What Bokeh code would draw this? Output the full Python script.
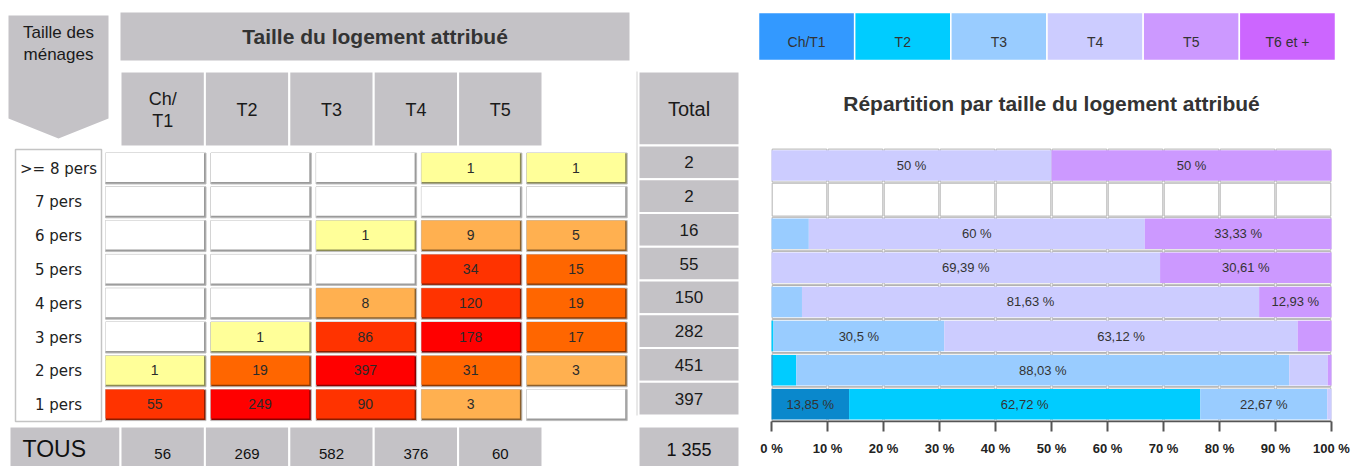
from bokeh.plotting import figure
from bokeh.models import Range1d, ColumnDataSource, LinearAxis, FixedTicker
from bokeh.layouts import row
from bokeh.embed import file_html
from bokeh.resources import INLINE
from bokeh.core.properties import value

# ---------------- data ----------------
household_sizes = [">= 8 pers", "7 pers", "6 pers", "5 pers", "4 pers", "3 pers", "2 pers", "1 pers"]
header_labels = ["Ch/\nT1", "T2", "T3", "T4", "T5"]
legend_labels = ["Ch/T1", "T2", "T3", "T4", "T5", "T6 et +"]
ch_t1 = [0, 0, 0, 0, 0, 0, 1, 55]
t2 = [0, 0, 0, 0, 0, 1, 19, 249]
t3 = [0, 0, 1, 0, 8, 86, 397, 90]
t4 = [1, 0, 9, 34, 120, 178, 31, 3]
t5 = [1, 0, 5, 15, 19, 17, 3, 0]
t6_plus = [0, 0, 0, 0, 0, 0, 0, 0]
row_totals = [2, 2, 16, 55, 150, 282, 451, 397]
column_totals = [56, 269, 582, 376, 60]
grand_total = "1 355"
axis_ticks = [0, 10, 20, 30, 40, 50, 60, 70, 80, 90, 100]

# ---------------- styles ----------------
GRAY = "#C4C2C6"
SANS = value("Liberation Sans")
NARROW = value("Liberation Sans Narrow, Liberation Sans")
DEJA = value("DejaVu Sans")
bar_colors = ["#0A88CC", "#00CCFF", "#99CCFF", "#CCCCFF", "#CC99FF", "#CC66FF"]
legend_colors = ["#3399FF", "#00CCFF", "#99CCFF", "#CCCCFF", "#CC99FF", "#CC66FF"]


def heat_color(v):
    if v <= 0:
        return "#FFFFFF"
    if v == 1:
        return "#FFFF99"
    if v < 10:
        return "#FFB050"
    if v < 34:
        return "#FF6600"
    if v < 150:
        return "#FF3300"
    return "#FF0000"


def shade(hex_color, f=0.55):
    h = hex_color.lstrip("#")
    r, g, b = (int(h[i:i + 2], 16) for i in (0, 2, 4))
    return "#%02x%02x%02x" % (int(r * f), int(g * f), int(b * f))


def fmt_pct(p):
    s = f"{round(p, 2):.2f}".rstrip("0").rstrip(".")
    return s.replace(".", ",") + " %"


series = [ch_t1, t2, t3, t4, t5]
n_rows = len(household_sizes)

W1, W2, H = 750, 603, 466

# ================= left: table =================
p1 = figure(width=W1, height=H, x_range=Range1d(0, W1), y_range=Range1d(H, 0),
            output_backend="svg", toolbar_location=None, x_axis_type=None, y_axis_type=None,
            min_border=0, outline_line_color=None, background_fill_color="white",
            border_fill_color="white")
p1.frame_align = False

# "Taille des ménages" arrow
p1.patch([8, 108, 108, 58, 8], [15, 15, 118, 138, 118], fill_color=GRAY, line_color=None)
p1.text(x=[58, 58], y=[32, 54], text=["Taille des", "ménages"], text_font=SANS,
        text_font_size="17px", text_align="center", text_baseline="middle", text_color="#1a1a1a")

# main header
p1.quad(left=[120], right=[629], top=[12], bottom=[60], fill_color=GRAY, line_color=None)
p1.text(x=[374.5], y=[36], text=["Taille du logement attribué"], text_font=SANS,
        text_font_style="bold", text_font_size="21px", text_align="center",
        text_baseline="middle", text_color="#333333")

# column headers
HX0, HW = 120, 84.4
hl = [HX0 + i * HW for i in range(len(header_labels))]
p1.quad(left=hl, right=[x + HW for x in hl], top=[71] * len(hl), bottom=[146] * len(hl),
        fill_color=GRAY, line_color="white", line_width=2)
p1.text(x=[x + HW / 2 for x in hl], y=[109] * len(hl), text=header_labels, text_font=SANS,
        text_font_size="18px", text_align="center", text_baseline="middle",
        text_color="#1a1a1a", text_line_height=1.1)

# total column
TX0, TX1 = 638, 739
TY0, TH = 145, 33.75
p1.quad(left=[TX0], right=[TX1], top=[71], bottom=[TY0], fill_color=GRAY,
        line_color="white", line_width=2)
p1.text(x=[(TX0 + TX1) / 2], y=[108], text=["Total"], text_font=SANS, text_font_size="20px",
        text_align="center", text_baseline="middle", text_color="#1a1a1a")
tt = [TY0 + r * TH for r in range(n_rows)]
p1.quad(left=[TX0] * n_rows, right=[TX1] * n_rows, top=tt, bottom=[t + TH for t in tt],
        fill_color=GRAY, line_color="white", line_width=2)
p1.text(x=[(TX0 + TX1) / 2] * n_rows, y=[t + TH / 2 for t in tt],
        text=[str(v) for v in row_totals], text_font=SANS, text_font_size="17px",
        text_align="center", text_baseline="middle", text_color="#1a1a1a")
p1.segment(x0=[636.5], y0=[71], x1=[636.5], y1=[TY0 + n_rows * TH], line_color="#d2d2d2",
           line_width=1)

# row label box
CY0, CDY, CH = 152.5, 33.8, 31
p1.quad(left=[15], right=[101], top=[149], bottom=[421], fill_color="white",
        line_color="#c4c4c4", line_width=1.5)
p1.text(x=[58] * n_rows, y=[CY0 + r * CDY + CH / 2 for r in range(n_rows)],
        text=household_sizes, text_font=DEJA, text_font_size="15px", text_align="center",
        text_baseline="middle", text_color="#222222")

# heat cells
CX0, CDX, CW = 105, 105.3, 100.5
L, R, T, B, C, S, TX, TY, TV = [], [], [], [], [], [], [], [], []
for r in range(n_rows):
    for c, col in enumerate(series):
        v = col[r]
        left = CX0 + c * CDX
        top = CY0 + r * CDY
        L.append(left); R.append(left + CW); T.append(top); B.append(top + CH)
        fc = heat_color(v)
        C.append(fc)
        S.append("#9a9a9a" if v <= 0 else shade(fc))
        if v > 0:
            TX.append(left + CW / 2 - 1); TY.append(top + CH / 2 - 1); TV.append(str(v))
p1.quad(left=L, right=R, top=T, bottom=B, fill_color=S, line_color="#bdbdbd", line_width=1)
p1.quad(left=L, right=[x - 2 for x in R], top=T, bottom=[y - 2 for y in B], fill_color=C,
        line_color=None)
p1.text(x=TX, y=TY, text=TV, text_font=NARROW, text_font_size="14px", text_align="center",
        text_baseline="middle", text_color="#2b2b2b")

# TOUS row
BY0, BY1 = 426, 472
p1.quad(left=[9] + hl + [TX0], right=[120] + [x + HW for x in hl] + [TX1],
        top=[BY0] * 7, bottom=[BY1] * 7, fill_color=GRAY, line_color="white", line_width=2)
p1.text(x=[22], y=[448], text=["TOUS"], text_font=SANS, text_font_size="23px",
        text_align="left", text_baseline="middle", text_color="#111111")
p1.text(x=[x + HW / 2 for x in hl], y=[453] * len(hl), text=[str(v) for v in column_totals],
        text_font=SANS, text_font_size="15px", text_align="center", text_baseline="middle",
        text_color="#111111")
p1.text(x=[(TX0 + TX1) / 2], y=[449], text=[grand_total], text_font=SANS,
        text_font_size="18px", text_align="center", text_baseline="middle",
        text_color="#111111")

# ================= right: stacked bars =================
FRAME_BOTTOM = 421
PX0, PX100 = 771 - W1, 1331 - W1
ppu = (PX100 - PX0) / 100.0
p2 = figure(width=W2, height=H, x_range=Range1d(-PX0 / ppu, 100 + (W2 - PX100) / ppu),
            y_range=Range1d(FRAME_BOTTOM, 0), output_backend="svg", toolbar_location=None,
            x_axis_type=None, y_axis_type=None, min_border_left=0, min_border_right=0,
            min_border_top=0, min_border_bottom=H - FRAME_BOTTOM, outline_line_color=None,
            background_fill_color="white", border_fill_color="white")
p2.frame_align = False

BY_TOP, BDY, BARH = 148, 34.1, 30.5
band_tops = [BY_TOP + r * BDY for r in range(n_rows)]
centers = [t + BDY / 2 for t in band_tops]

# background grid cells
gl, gr, gt, gb = [], [], [], []
for t in band_tops:
    for k in axis_ticks[:-1]:
        gl.append(k + 0.12); gr.append(k + 10 - 0.12); gt.append(t + 0.6); gb.append(t + BDY - 0.6)
p2.quad(left=gl, right=gr, top=gt, bottom=gb, fill_color="white", line_color="#b3b3b3",
        line_width=1)

all_series = [ch_t1, t2, t3, t4, t5, t6_plus]
names = ["s0", "s1", "s2", "s3", "s4", "s5"]
pct = {n: [] for n in names}
lx, ly, lt = [], [], []
for r in range(n_rows):
    vals = [s[r] for s in all_series]
    tot = sum(vals)
    cum = 0.0
    for n, v in zip(names, vals):
        p = 100.0 * v / tot if tot else 0.0
        pct[n].append(p)
        if p >= 10:
            lx.append(cum + p / 2); ly.append(centers[r]); lt.append(fmt_pct(p))
        cum += p
src = ColumnDataSource(dict(y=centers, **pct))
p2.hbar_stack(names, y="y", height=BARH, color=bar_colors, line_color=None, source=src)
p2.text(x=lx, y=ly, text=lt, text_font=NARROW, text_font_size="13px", text_align="center",
        text_baseline="middle", text_color="#333333")

# legend bar
LEG_X0 = (758 - 771) / ppu
LEG_W = ((1335 - 758) / ppu) / len(legend_labels)
ll = [LEG_X0 + i * LEG_W for i in range(len(legend_labels))]
p2.quad(left=ll, right=[x + LEG_W for x in ll], top=[12] * 6, bottom=[60] * 6,
        fill_color=legend_colors, line_color="white", line_width=1.5)
p2.text(x=[x + LEG_W / 2 for x in ll], y=[41] * 6, text=legend_labels, text_font=SANS,
        text_font_size="14px", text_align="center", text_baseline="middle",
        text_color="#333333")

# title
p2.text(x=[50], y=[103], text=["Répartition par taille du logement attribué"], text_font=SANS,
        text_font_style="bold", text_font_size="21px", text_align="center",
        text_baseline="middle", text_color="#333333")

ax = LinearAxis(ticker=FixedTicker(ticks=axis_ticks), bounds=(0, 100),
                major_label_overrides={t: f"{t} %" for t in axis_ticks})
ax.axis_line_color = "#555555"
ax.axis_line_width = 1.5
ax.major_tick_line_color = "#555555"
ax.major_tick_line_width = 2
ax.major_tick_in = 0
ax.major_tick_out = 10
ax.minor_tick_out = 0
ax.minor_tick_in = 0
ax.major_label_standoff = 9
ax.major_label_text_font = "Liberation Sans"
ax.major_label_text_font_style = "bold"
ax.major_label_text_font_size = "13px"
ax.major_label_text_color = "#222222"
p2.add_layout(ax, "below")

layout = row(p1, p2, spacing=0)
open("out.html", "w").write(file_html(layout, INLINE))
